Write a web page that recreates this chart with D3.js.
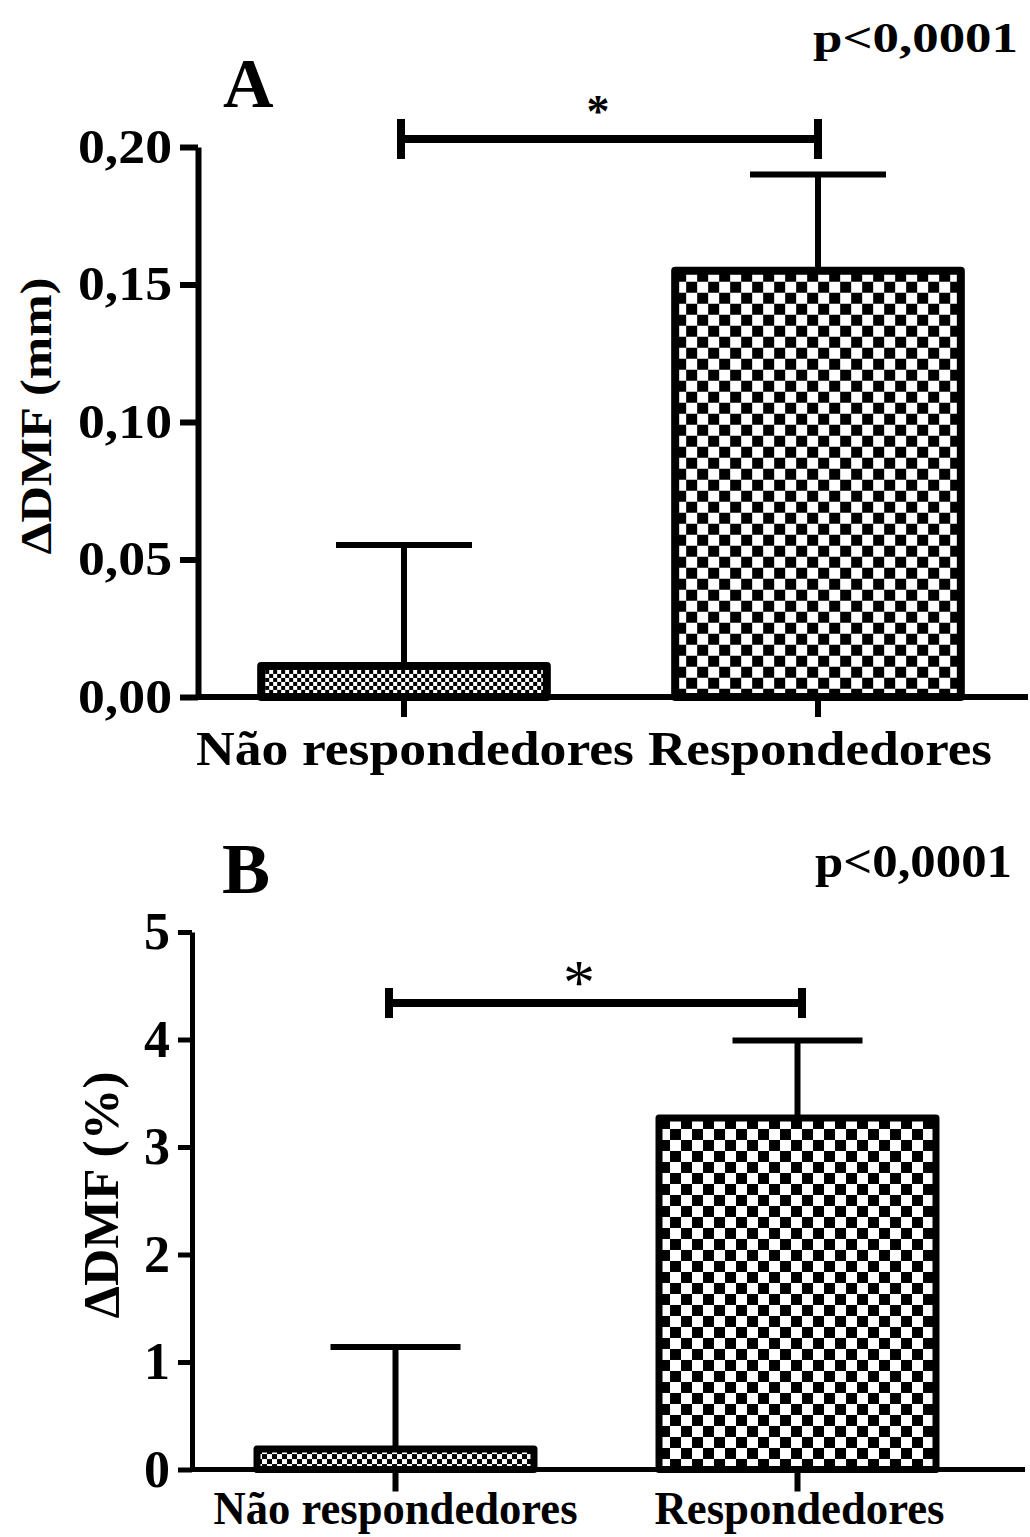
<!DOCTYPE html>
<html>
<head>
<meta charset="utf-8">
<script src="https://cdn.jsdelivr.net/npm/d3@7"></script>
<style>
  html, body { margin: 0; padding: 0; background: #fff; }
  svg { display: block; }
  text { font-family: "Liberation Serif", "Times New Roman", serif; fill: #000; }
</style>
</head>
<body>
<svg id="chart" width="1030" height="1537"></svg>
<script>
// ---------- data ----------
const categories = ["Não respondedores", "Respondedores"];

const meanA = [0.0113, 0.155];
const sdA = [0.044, 0.035];
const ticksA = [0, 0.05, 0.10, 0.15, 0.20];
const tickLabelsA = ["0,00", "0,05", "0,10", "0,15", "0,20"];
const yLabelA = "ΔDMF (mm)";
const panelLetterA = "A";

const meanB = [0.19, 3.27];
const sdB = [0.95, 0.72];
const ticksB = [0, 1, 2, 3, 4, 5];
const tickLabelsB = ["0", "1", "2", "3", "4", "5"];
const yLabelB = "ΔDMF (%)";
const panelLetterB = "B";

const pValueText = "p<0,0001";
const sigMark = "*";

// ---------- layout ----------
const svg = d3.select("#chart");
const defs = svg.append("defs");

function checker(id, cell, x0, y0) {
  const p = defs.append("pattern")
    .attr("id", id)
    .attr("patternUnits", "userSpaceOnUse")
    .attr("width", cell * 2).attr("height", cell * 2)
    .attr("patternTransform", `translate(${x0},${y0})`);
  p.append("rect").attr("width", cell * 2).attr("height", cell * 2).attr("fill", "#fff");
  p.append("rect").attr("x", 0).attr("y", 0).attr("width", cell).attr("height", cell).attr("fill", "#000");
  p.append("rect").attr("x", cell).attr("y", cell).attr("width", cell).attr("height", cell).attr("fill", "#000");
}

const panels = [
  {
    mean: meanA, sd: sdA, ticks: ticksA, tickLabels: tickLabelsA, yLabel: yLabelA, letter: panelLetterA,
    yDomain: [0, 0.20], yRange: [697, 147], axisX: 198, xRange: [197, 1025], padInner: 0.31,
    xEnd: 1028, tickSize: 18, tickPad: 8, tickFont: 48, tickLen: 94,
    barStroke: 8, cells: [4, 11], capHalf: 68, errStroke: 6, axisStroke: 6,
    xTickLen: 20,
    catFont: 48, catBaseline: 765, catLens: [438, 344], catDx: [11, 2],
    yLabX: 51, yLabY: 416, yLabFont: 44, yLabLen: 277,
    letterX: 223, letterY: 107, letterFont: 70,
    pX: 813, pY: 52, pFont: 42, pLen: 205,
    bracketY: 139, bracketL: 401, bracketR: 818, bracketH: 20, bracketStroke: 8,
    starX: 598, starY: 127, starFont: 46, starWeight: "bold"
  },
  {
    mean: meanB, sd: sdB, ticks: ticksB, tickLabels: tickLabelsB, yLabel: yLabelB, letter: panelLetterB,
    yDomain: [0, 5], yRange: [1469.5, 932], axisX: 192, xRange: [194.5, 998.5], padInner: 0.311,
    xEnd: 1025, tickSize: 14, tickPad: 8, tickFont: 52, tickLen: null,
    barStroke: 7, cells: [5, 11], capHalf: 65, errStroke: 6, axisStroke: 5,
    xTickLen: 22,
    catFont: 47, catBaseline: 1524, catLens: [364, 290], catDx: [0, 2],
    yLabX: 118, yLabY: 1195, yLabFont: 50, yLabLen: 247,
    letterX: 222, letterY: 893, letterFont: 72,
    pX: 815, pY: 877, pFont: 46, pLen: 197,
    bracketY: 1003, bracketL: 389, bracketR: 802, bracketH: 15, bracketStroke: 8,
    starX: 579, starY: 1004, starFont: 64, starWeight: "normal"
  }
];

panels.forEach((P, pi) => {
  const g = svg.append("g");
  const y = d3.scaleLinear().domain(P.yDomain).range(P.yRange);
  const x = d3.scaleBand().domain(categories).range(P.xRange)
    .paddingInner(P.padInner).paddingOuter(P.padInner / 2).align(0.5);

  // error bars (drawn first, bars cover the lower part)
  categories.forEach((c, i) => {
    const cx = x(c) + x.bandwidth() / 2;
    const top = y(P.mean[i] + P.sd[i]);
    g.append("line").attr("x1", cx).attr("x2", cx)
      .attr("y1", y(P.mean[i])).attr("y2", top)
      .attr("stroke", "#000").attr("stroke-width", P.errStroke);
    g.append("line").attr("x1", cx - P.capHalf).attr("x2", cx + P.capHalf)
      .attr("y1", top).attr("y2", top)
      .attr("stroke", "#000").attr("stroke-width", P.errStroke);
  });

  // bars
  categories.forEach((c, i) => {
    const id = `pat${pi}_${i}`;
    checker(id, P.cells[i], x(c), y(P.mean[i]));
    g.append("rect")
      .attr("x", x(c)).attr("y", y(P.mean[i]))
      .attr("width", x.bandwidth()).attr("height", y(0) - y(P.mean[i]))
      .attr("fill", `url(#${id})`)
      .attr("stroke", "#000").attr("stroke-width", P.barStroke)
      .attr("stroke-linejoin", "round");
  });

  // x axis line and ticks
  const xAxis = d3.axisBottom(x).tickSizeInner(P.xTickLen).tickSizeOuter(0).tickFormat("");
  const gx = g.append("g").attr("transform", `translate(0,${y(0)})`).call(xAxis);
  gx.select(".domain").remove();
  gx.selectAll(".tick line").attr("stroke", "#000").attr("stroke-width", P.errStroke);
  g.append("line").attr("x1", P.axisX).attr("x2", P.xEnd)
    .attr("y1", y(0)).attr("y2", y(0))
    .attr("stroke", "#000").attr("stroke-width", P.axisStroke);

  // category labels
  categories.forEach((c, i) => {
    g.append("text")
      .attr("x", x(c) + x.bandwidth() / 2 + P.catDx[i])
      .attr("y", P.catBaseline)
      .attr("text-anchor", "middle")
      .attr("font-size", P.catFont)
      .style("font-weight", "bold")
      .attr("textLength", P.catLens[i])
      .attr("lengthAdjust", "spacingAndGlyphs")
      .text(c);
  });

  // y axis
  const yAxis = d3.axisLeft(y).tickValues(P.ticks)
    .tickFormat((d, i) => P.tickLabels[i])
    .tickSizeInner(P.tickSize).tickSizeOuter(0).tickPadding(P.tickPad);
  const gy = g.append("g").attr("transform", `translate(${P.axisX},0)`).call(yAxis);
  gy.select(".domain").attr("stroke", "#000").attr("stroke-width", P.axisStroke);
  gy.selectAll(".tick line").attr("stroke", "#000").attr("stroke-width", P.axisStroke);
  gy.selectAll(".tick text")
    .attr("font-size", P.tickFont)
    .attr("font-family", "'Liberation Serif', 'Times New Roman', serif")
    .style("font-weight", "bold")
    .attr("fill", "#000");
  if (P.tickLen) {
    gy.selectAll(".tick text").attr("textLength", P.tickLen).attr("lengthAdjust", "spacingAndGlyphs");
  }

  // y label
  g.append("text")
    .attr("transform", `translate(${P.yLabX},${P.yLabY}) rotate(-90)`)
    .attr("text-anchor", "middle")
    .attr("font-size", P.yLabFont)
    .style("font-weight", "bold")
    .attr("textLength", P.yLabLen)
    .attr("lengthAdjust", "spacingAndGlyphs")
    .text(P.yLabel);

  // panel letter
  g.append("text").attr("x", P.letterX).attr("y", P.letterY)
    .attr("font-size", P.letterFont).style("font-weight", "bold").text(P.letter);

  // p value
  g.append("text").attr("x", P.pX).attr("y", P.pY)
    .attr("font-size", P.pFont)
    .style("font-weight", "bold")
    .attr("textLength", P.pLen).attr("lengthAdjust", "spacingAndGlyphs")
    .text(pValueText);

  // significance bracket
  const bs = P.bracketStroke;
  g.append("line").attr("x1", P.bracketL).attr("x2", P.bracketR)
    .attr("y1", P.bracketY).attr("y2", P.bracketY)
    .attr("stroke", "#000").attr("stroke-width", bs);
  [P.bracketL, P.bracketR].forEach(bx => {
    g.append("line").attr("x1", bx).attr("x2", bx)
      .attr("y1", P.bracketY - P.bracketH).attr("y2", P.bracketY + P.bracketH)
      .attr("stroke", "#000").attr("stroke-width", bs);
  });
  g.append("text").attr("x", P.starX).attr("y", P.starY)
    .attr("text-anchor", "middle")
    .attr("font-size", P.starFont)
    .style("font-weight", P.starWeight)
    .text(sigMark);
});
</script>
</body>
</html>
